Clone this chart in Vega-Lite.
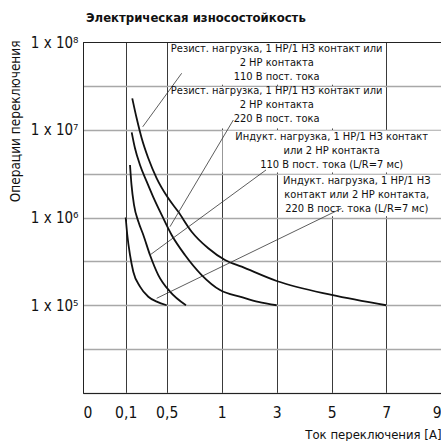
{
  "$schema": "https://vega.github.io/schema/vega-lite/v6.json",
  "width": 358,
  "height": 351,
  "autosize": {"type": "none"},
  "padding": {"left": 83, "top": 42, "right": 0, "bottom": 48},
  "background": "white",
  "config": {
    "font": "Liberation Sans Narrow, DejaVu Sans Condensed, Roboto, sans-serif",
    "view": {"stroke": "#222", "strokeWidth": 1}
  },
  "title": {
    "text": "Электрическая износостойкость",
    "anchor": "start",
    "frame": "group",
    "dx": 3,
    "offset": 10,
    "font": "Liberation Sans Narrow, DejaVu Sans Condensed, sans-serif",
    "fontSize": 13,
    "fontWeight": "bold",
    "color": "#111"
  },
  "datasets": {
    "curves": [
      {"series": "Резист. 110 В", "A": 0.164, "ops": 22800000},
      {"series": "Резист. 110 В", "A": 0.207, "ops": 13500000},
      {"series": "Резист. 110 В", "A": 0.256, "ops": 8000000},
      {"series": "Резист. 110 В", "A": 0.3205, "ops": 4730000},
      {"series": "Резист. 110 В", "A": 0.4024, "ops": 2800000},
      {"series": "Резист. 110 В", "A": 0.507, "ops": 1710000},
      {"series": "Резист. 110 В", "A": 0.6055, "ops": 1160000},
      {"series": "Резист. 110 В", "A": 0.727, "ops": 689000},
      {"series": "Резист. 110 В", "A": 0.878, "ops": 446000},
      {"series": "Резист. 110 В", "A": 1.12, "ops": 328000},
      {"series": "Резист. 110 В", "A": 1.727, "ops": 275000},
      {"series": "Резист. 110 В", "A": 3, "ops": 189000},
      {"series": "Резист. 110 В", "A": 5, "ops": 131000},
      {"series": "Резист. 110 В", "A": 7, "ops": 100000},
      {"series": "Резист. 220 В", "A": 0.1585, "ops": 9350000},
      {"series": "Резист. 220 В", "A": 0.1907, "ops": 6150000},
      {"series": "Резист. 220 В", "A": 0.2395, "ops": 3970000},
      {"series": "Резист. 220 В", "A": 0.305, "ops": 2560000},
      {"series": "Резист. 220 В", "A": 0.369, "ops": 1710000},
      {"series": "Резист. 220 В", "A": 0.451, "ops": 1070000},
      {"series": "Резист. 220 В", "A": 0.545, "ops": 632000},
      {"series": "Резист. 220 В", "A": 0.666, "ops": 374000},
      {"series": "Резист. 220 В", "A": 0.818, "ops": 221000},
      {"series": "Резист. 220 В", "A": 0.985, "ops": 149000},
      {"series": "Резист. 220 В", "A": 1.727, "ops": 124000},
      {"series": "Резист. 220 В", "A": 2.331, "ops": 109000},
      {"series": "Резист. 220 В", "A": 3, "ops": 100000},
      {"series": "Индукт. 110 В", "A": 0.142, "ops": 3970000},
      {"series": "Индукт. 110 В", "A": 0.1566, "ops": 2350000},
      {"series": "Индукт. 110 В", "A": 0.181, "ops": 1390000},
      {"series": "Индукт. 110 В", "A": 0.225, "ops": 889000},
      {"series": "Индукт. 110 В", "A": 0.272, "ops": 632000},
      {"series": "Индукт. 110 В", "A": 0.337, "ops": 374000},
      {"series": "Индукт. 110 В", "A": 0.418, "ops": 221000},
      {"series": "Индукт. 110 В", "A": 0.53, "ops": 143000},
      {"series": "Индукт. 110 В", "A": 0.675, "ops": 100000},
      {"series": "Индукт. 220 В", "A": 0.1, "ops": 1000000},
      {"series": "Индукт. 220 В", "A": 0.1156, "ops": 632000},
      {"series": "Индукт. 220 В", "A": 0.142, "ops": 374000},
      {"series": "Индукт. 220 В", "A": 0.174, "ops": 241000},
      {"series": "Индукт. 220 В", "A": 0.2396, "ops": 163000},
      {"series": "Индукт. 220 В", "A": 0.3206, "ops": 125000},
      {"series": "Индукт. 220 В", "A": 0.4026, "ops": 110000},
      {"series": "Индукт. 220 В", "A": 0.5, "ops": 100000}
    ],
    "leaders": [
      {"series": "Резист. 110 В", "A": 0.636, "ops": 44000000},
      {"series": "Резист. 110 В", "A": 0.266, "ops": 10800000},
      {"series": "Резист. 220 В", "A": 1.422, "ops": 12900000},
      {"series": "Резист. 220 В", "A": 0.53, "ops": 786000},
      {"series": "Индукт. 110 В", "A": 2.611, "ops": 3480000},
      {"series": "Индукт. 110 В", "A": 0.337, "ops": 374000},
      {"series": "Индукт. 220 В", "A": 5.364, "ops": 1270000},
      {"series": "Индукт. 220 В", "A": 0.4024, "ops": 120000}
    ],
    "boxes": [
      {"series": "Резист. 110 В", "x1": 0.515, "x2": 6.94, "y1": 32600000, "y2": 97200000},
      {"series": "Резист. 220 В", "x1": 0.515, "x2": 6.94, "y1": 10300000, "y2": 30700000},
      {"series": "Индукт. 110 В", "x1": 1.03, "x2": 9, "y1": 3260000, "y2": 9720000},
      {"series": "Индукт. 220 В", "x1": 3.05, "x2": 9, "y1": 1030000, "y2": 3070000}
    ],
    "labels": [
      {"series": "Резист. 110 В", "A": 3.0, "ops": 59200000, "lines": ["Резист. нагрузка, 1 НР/1 НЗ контакт или", "2 НР контакта", "110 В пост. тока"]},
      {"series": "Резист. 220 В", "A": 3.0, "ops": 19400000, "lines": ["Резист. нагрузка, 1 НР/1 НЗ контакт или", "2 НР контакта", "220 В пост. тока"]},
      {"series": "Индукт. 110 В", "A": 5.0, "ops": 5870000, "lines": ["Индукт. нагрузка, 1 НР/1 НЗ контакт", "или 2 НР контакта", "110 В пост. тока (L/R=7 мс)"]},
      {"series": "Индукт. 220 В", "A": 5.92, "ops": 1830000, "lines": ["Индукт. нагрузка, 1 НР/1 НЗ", "контакт или 2 НР контакта,", "220 В пост. тока (L/R=7 мс)"]}
    ]
  },
  "layer": [
    {
      "data": {"name": "boxes"},
      "mark": {"type": "rect", "color": "white", "fill": "white", "opacity": 1},
      "encoding": {
        "x": {
          "field": "x1", "type": "quantitative",
          "scale": {"type": "linear", "domain": [0, 0.1, 0.5, 1, 3, 5, 7, 9], "range": [0, 42.7, 83.7, 138.7, 193.7, 248.7, 303.2, 358], "nice": false, "zero": false},
          "axis": {
            "zindex": 0,
            "values": [0, 0.1, 0.5, 1, 3, 5, 7, 9],
            "labelExpr": "replace(format(datum.value, ''), '.', ',')",
            "labelFlush": true,
            "labelFontSize": 15.5,
            "labelColor": "#111",
            "labelPadding": 12,
            "ticks": false,
            "grid": true,
            "gridColor": "#3a3a3a",
            "gridWidth": 1,
            "domainColor": "#222",
            "domainWidth": 1,
            "title": "Ток переключения [A]",
            "titleFontSize": 13,
            "titleFontWeight": "normal",
            "titleColor": "#111",
            "titleX": 358,
            "titleY": 45,
            "titleAlign": "right",
            "titleBaseline": "alphabetic"
          }
        },
        "x2": {"field": "x2"},
        "y": {
          "field": "y1", "type": "quantitative",
          "scale": {"type": "log", "domain": [10000, 100000000], "nice": false},
          "axis": {
            "zindex": 0,
            "values": [10000, 31622.7766, 100000, 316227.766, 1000000, 3162277.66, 10000000, 31622776.6, 100000000],
            "labelExpr": "datum.value == 100000 ? '1 x 10⁵' : datum.value == 1000000 ? '1 x 10⁶' : datum.value == 10000000 ? '1 x 10⁷' : datum.value == 100000000 ? '1 x 10⁸' : ''",
            "labelFontSize": 15,
            "labelColor": "#111",
            "labelPadding": 5,
            "labelBaseline": "middle",
            "ticks": false,
            "grid": true,
            "gridColor": {"condition": {"test": "datum.value == 100000000", "value": "#222"}, "value": "#a8a8a8"},
            "gridWidth": {"condition": {"test": "datum.value == 100000000", "value": 1}, "value": 1.6},
            "domainColor": "#222",
            "domainWidth": 1,
            "title": "Операции переключения",
            "titleFontSize": 13.5,
            "titleFontWeight": "normal",
            "titleColor": "#111",
            "titleAngle": -90,
            "titleX": -68,
            "titleY": -2,
            "titleAlign": "right",
            "titleBaseline": "middle"
          }
        },
        "y2": {"field": "y2"}
      }
    },
    {
      "data": {"name": "curves"},
      "mark": {"type": "line", "color": "#111", "strokeWidth": 1.8, "interpolate": "monotone"},
      "encoding": {
        "x": {"field": "A", "type": "quantitative"},
        "y": {"field": "ops", "type": "quantitative"},
        "detail": {"field": "series"}
      }
    },
    {
      "data": {"name": "leaders"},
      "mark": {"type": "line", "color": "#333", "strokeWidth": 0.8},
      "encoding": {
        "x": {"field": "A", "type": "quantitative"},
        "y": {"field": "ops", "type": "quantitative"},
        "detail": {"field": "series"}
      }
    },
    {
      "data": {"name": "labels"},
      "mark": {"type": "text", "fontSize": 11, "lineHeight": 14, "align": "center", "baseline": "middle", "dy": -13, "color": "#111"},
      "encoding": {
        "x": {"field": "A", "type": "quantitative"},
        "y": {"field": "ops", "type": "quantitative"},
        "text": {"field": "lines"}
      }
    }
  ]
}
